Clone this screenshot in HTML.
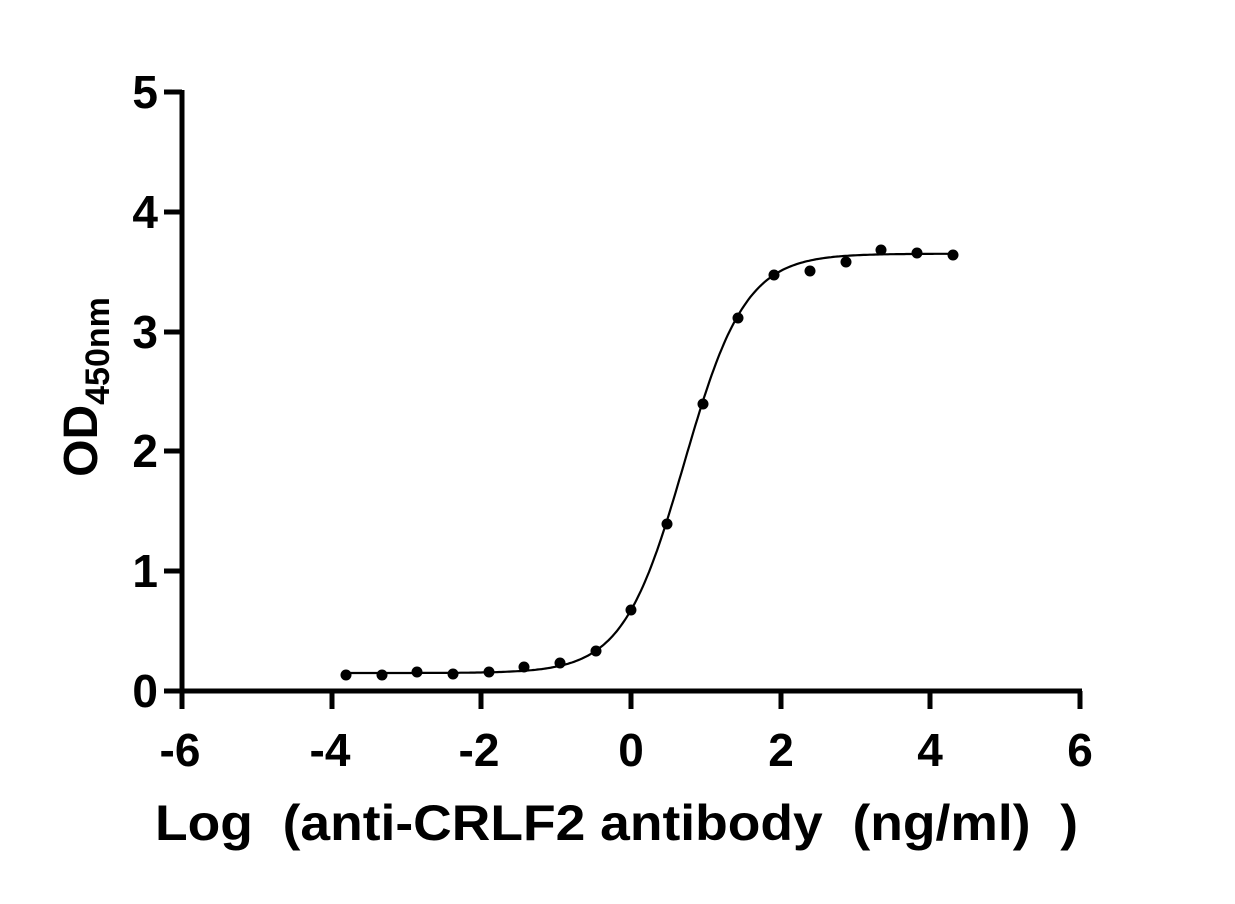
<!DOCTYPE html>
<html><head><meta charset="utf-8"><style>
body{margin:0;background:#fff}
svg text{font-family:"Liberation Sans",sans-serif;font-weight:bold;fill:#000}
</style></head><body>
<svg width="1235" height="899" xmlns="http://www.w3.org/2000/svg">
<g stroke="#000" stroke-width="5" fill="none">
<line x1="182" y1="90" x2="182" y2="694"/>
<line x1="180" y1="691" x2="1082" y2="691"/>
<line x1="164" y1="92" x2="182" y2="92"/>
<line x1="164" y1="212" x2="182" y2="212"/>
<line x1="164" y1="332" x2="182" y2="332"/>
<line x1="164" y1="451" x2="182" y2="451"/>
<line x1="164" y1="571" x2="182" y2="571"/>
<line x1="164" y1="691" x2="182" y2="691"/>
<line x1="182" y1="691" x2="182" y2="709"/>
<line x1="332" y1="691" x2="332" y2="709"/>
<line x1="481" y1="691" x2="481" y2="709"/>
<line x1="631" y1="691" x2="631" y2="709"/>
<line x1="781" y1="691" x2="781" y2="709"/>
<line x1="930" y1="691" x2="930" y2="709"/>
<line x1="1080" y1="691" x2="1080" y2="709"/>
</g>
<g font-size="46" text-anchor="end">
<text x="158" y="108">5</text><text x="158" y="228">4</text><text x="158" y="348">3</text>
<text x="158" y="467">2</text><text x="158" y="587">1</text><text x="158" y="707">0</text>
</g>
<g font-size="46" text-anchor="middle">
<text x="180" y="766">-6</text><text x="330" y="766">-4</text><text x="479" y="766">-2</text>
<text x="631" y="766">0</text><text x="781" y="766">2</text><text x="930" y="766">4</text><text x="1080" y="766">6</text>
</g>
<text x="155" y="840" font-size="50" textLength="923" lengthAdjust="spacingAndGlyphs" xml:space="preserve">Log  (anti-CRLF2 antibody  (ng/ml)  )</text>
<text transform="translate(97,387) rotate(-90)" font-size="48" text-anchor="middle">OD<tspan font-size="34" dy="12">450nm</tspan></text>
<path id="c" fill="none" stroke="#000" stroke-width="2.2"/>
<g fill="#000">
<circle cx="346" cy="675" r="5.5"/><circle cx="382" cy="675" r="5.5"/><circle cx="417" cy="672" r="5.5"/>
<circle cx="453" cy="674" r="5.5"/><circle cx="489" cy="672" r="5.5"/><circle cx="524" cy="667" r="5.5"/>
<circle cx="560" cy="663" r="5.5"/><circle cx="596" cy="651" r="5.5"/><circle cx="631" cy="610" r="5.5"/>
<circle cx="667" cy="524" r="5.5"/><circle cx="703" cy="404" r="5.5"/><circle cx="738" cy="318" r="5.5"/>
<circle cx="774" cy="275" r="5.5"/><circle cx="810" cy="271" r="5.5"/><circle cx="846" cy="262" r="5.5"/>
<circle cx="881" cy="250" r="5.5"/><circle cx="917" cy="253" r="5.5"/><circle cx="953" cy="255" r="5.5"/>
</g>
<script>
var d="";for(var i=0;i<=300;i++){var x=-3.82+i*(8.12/300);var y=0.15+3.5/(1+Math.pow(10,1.06*(0.71-x)));
d+=(i?"L":"M")+(631+x*74.83).toFixed(1)+","+(691-y*119.8).toFixed(1);}
document.getElementById("c").setAttribute("d",d);
</script>
</svg>
</body></html>
